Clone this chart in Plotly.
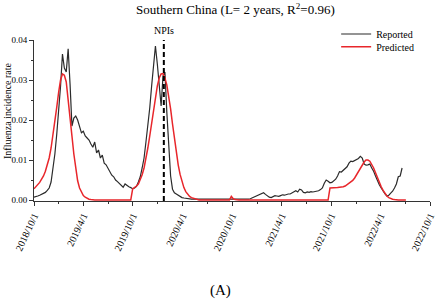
import pandas as pd
import plotly.graph_objects as go

start_date = "2018-10-01"

reported = [
    0.0007, 0.0008, 0.0010, 0.0012, 0.0014, 0.0016, 0.0019, 0.0024, 0.0030, 0.0045,
    0.0075, 0.0115, 0.0165, 0.0220, 0.0285, 0.0365, 0.0330, 0.0320, 0.0378, 0.0290,
    0.0185, 0.0205, 0.0210, 0.0200, 0.0185, 0.0168, 0.0172, 0.0160, 0.0155, 0.0150,
    0.0140, 0.0132, 0.0145, 0.0118, 0.0125, 0.0105, 0.0112, 0.0092, 0.0088, 0.0080,
    0.0070, 0.0062, 0.0058, 0.0050, 0.0046, 0.0042, 0.0038, 0.0032, 0.0040, 0.0036,
    0.0033, 0.0031, 0.0028, 0.0030, 0.0034, 0.0045, 0.0058, 0.0080, 0.0105, 0.0145,
    0.0185, 0.0230, 0.0285, 0.0335, 0.0385, 0.0340, 0.0275, 0.0235, 0.0310, 0.0320,
    0.0220, 0.0130, 0.0060, 0.0027, 0.0018, 0.0015, 0.0012, 0.0008, 0.0006, 0.0005,
    0.0004, 0.0003, 0.0003, 0.0002, 0.0002, 0.0002, 0.0002, 0.0001, 0.0001, 0.0001,
    0.0001, 0.0001, 0.0001, 0.0001, 0.0001, 0.0001, 0.0001, 0.0001, 0.0001, 0.0001,
    0.0001, 0.0001, 0.0001, 0.0001, 0.0001, 0.0001, 0.0001, 0.0001, 0.0001, 0.0001,
    0.0001, 0.0001, 0.0002, 0.0002, 0.0003, 0.0005, 0.0007, 0.0009, 0.0012, 0.0015,
    0.0017, 0.0018, 0.0014, 0.0010, 0.0007, 0.0006, 0.0008, 0.0011, 0.0010, 0.0009,
    0.0011, 0.0013, 0.0012, 0.0014, 0.0015, 0.0015, 0.0018, 0.0022, 0.0023, 0.0020,
    0.0027, 0.0025, 0.0019, 0.0018, 0.0020, 0.0019, 0.0021, 0.0020, 0.0021, 0.0022,
    0.0023, 0.0026, 0.0030, 0.0042, 0.0050, 0.0047, 0.0043, 0.0044, 0.0049, 0.0052,
    0.0060, 0.0071, 0.0070, 0.0075, 0.0080, 0.0083, 0.0092, 0.0097, 0.0096, 0.0098,
    0.0100, 0.0104, 0.0109, 0.0105, 0.0090, 0.0087, 0.0088, 0.0090, 0.0080, 0.0072,
    0.0060, 0.0048, 0.0038, 0.0030, 0.0022, 0.0015, 0.0010, 0.0012, 0.0017, 0.0022,
    0.0030, 0.0040, 0.0058, 0.0060, 0.0080,
]

predicted = [
    0.0028, 0.0033, 0.0038, 0.0044, 0.0052, 0.0060, 0.0072, 0.0088, 0.0105, 0.0130,
    0.0160, 0.0195, 0.0232, 0.0270, 0.0300, 0.0315, 0.0312, 0.0295, 0.0255, 0.0210,
    0.0160, 0.0115, 0.0078, 0.0048, 0.0030, 0.0018, 0.0011, 0.0007, 0.0004, 0.0002,
    0.0001, 0.0, 0.0, 0.0, 0.0, 0.0, 0.0, 0.0, 0.0, 0.0,
    0.0, 0.0, 0.0, 0.0, 0.0, 0.0, 0.0, 0.0, 0.0, 0.0,
    0.0, 0.0, 0.0028, 0.0031, 0.0035, 0.0040, 0.0050, 0.0063, 0.0080, 0.0103,
    0.0130, 0.0160, 0.0192, 0.0225, 0.0258, 0.0285, 0.0305, 0.0315, 0.0316, 0.0305,
    0.0288, 0.0262, 0.0228, 0.0190, 0.0153, 0.0118, 0.0088, 0.0064, 0.0045, 0.0031,
    0.0021, 0.0014, 0.0009, 0.0006, 0.0004, 0.0002, 0.0001, 0.0, 0.0, 0.0,
    0.0, 0.0, 0.0, 0.0, 0.0, 0.0, 0.0, 0.0, 0.0, 0.0,
    0.0, 0.0, 0.0, 0.0, 0.0009, 0.0003, 0.0001, 0.0, 0.0, 0.0,
    0.0, 0.0, 0.0, 0.0, 0.0, 0.0, 0.0, 0.0, 0.0, 0.0,
    0.0, 0.0, 0.0, 0.0, 0.0, 0.0, 0.0, 0.0, 0.0, 0.0,
    0.0, 0.0, 0.0, 0.0, 0.0, 0.0, 0.0, 0.0, 0.0, 0.0,
    0.0, 0.0, 0.0, 0.0, 0.0, 0.0, 0.0, 0.0, 0.0, 0.0,
    0.0, 0.0, 0.0, 0.0, 0.0, 0.0, 0.0030, 0.0030, 0.0030, 0.0031,
    0.0031, 0.0032, 0.0032, 0.0033, 0.0035, 0.0038, 0.0041, 0.0045, 0.0049, 0.0055,
    0.0063, 0.0071, 0.0079, 0.0088, 0.0095, 0.0100, 0.0100, 0.0097, 0.0090, 0.0080,
    0.0068, 0.0055, 0.0043, 0.0033, 0.0024, 0.0016, 0.0010, 0.0006, 0.0003, 0.0002,
    0.0001, 0.0, 0.0, 0.0, 0.0, 0.0, 0.0,
]

npi_date = "2020-01-23"
x_range = ["2018-10-01", "2022-10-01"]
y_tick_vals = [0.0, 0.01, 0.02, 0.03, 0.04]

rep_dates = pd.date_range(start=start_date, periods=len(reported), freq="7D")
pred_dates = pd.date_range(start=start_date, periods=len(predicted), freq="7D")

FONT = "Liberation Serif"

fig = go.Figure()
fig.add_trace(go.Scatter(x=rep_dates, y=reported, mode="lines", name="Reported",
                         line=dict(color="#2b2b2b", width=1.2), legend="legend"))
fig.add_trace(go.Scatter(x=pred_dates, y=predicted, mode="lines", name="Predicted",
                         line=dict(color="#e8262b", width=1.5), legend="legend2"))

fig.add_shape(type="line", xref="x", yref="paper", x0=npi_date, x1=npi_date, y0=0, y1=1,
              line=dict(color="black", width=2, dash="5px,3px"))
fig.add_annotation(x=npi_date, xref="x", y=1.062, yref="paper", text="NPIs",
                   showarrow=False, font=dict(size=10, family=FONT, color="black"),
                   xanchor="center", yanchor="middle")
fig.add_annotation(x=-0.0682, xref="paper", y=0.565, yref="paper",
                   text="Influenza incidence rate", textangle=-90, showarrow=False,
                   font=dict(size=10, family=FONT, color="black"),
                   xanchor="center", yanchor="middle")
fig.add_annotation(x=0.472, xref="paper", y=-0.553, yref="paper", text="(A)",
                   showarrow=False, font=dict(size=15, family=FONT, color="black"),
                   xanchor="center", yanchor="middle")

legend_common = dict(xanchor="left", yanchor="middle", bgcolor="rgba(0,0,0,0)",
                     font=dict(size=10, family=FONT, color="black"), borderwidth=0)
fig.update_layout(
    width=440, height=301,
    margin=dict(l=34, r=10, t=40, b=100, autoexpand=False),
    plot_bgcolor="white", paper_bgcolor="white",
    font=dict(family=FONT, color="black", size=10),
    title=dict(text="Southern China (L= 2 years, R<sup>2</sup>=0.96)",
               x=0.535, y=0.967, xanchor="center", yanchor="middle",
               font=dict(size=13, family=FONT, color="black")),
    showlegend=True,
    legend=dict(x=0.763, y=(201 - 34) / 161, **legend_common),
    legend2=dict(x=0.763, y=(201 - 46.7) / 161, **legend_common),
)
fig.update_xaxes(
    range=x_range, type="date", automargin=False,
    tick0="2018-10-01", dtick="M6", tickformat="%Y/%-m/%-d",
    tickangle=-65, tickfont=dict(size=10, family=FONT),
    showline=True, linecolor="#333", linewidth=1,
    ticks="outside", ticklen=4, tickcolor="#333",
    minor=dict(dtick="M3", ticks="outside", ticklen=2, tickcolor="#333"),
    showgrid=False, zeroline=False,
)
fig.update_yaxes(
    range=[-0.00025, 0.04], tickvals=y_tick_vals, tickformat=".2f", automargin=False,
    tickfont=dict(size=9, family=FONT),
    showline=True, linecolor="#333", linewidth=1,
    ticks="outside", ticklen=4, tickcolor="#333",
    minor=dict(tickvals=[0.005, 0.015, 0.025, 0.035], ticks="outside", ticklen=2, tickcolor="#333"),
    showgrid=False, zeroline=False,
)

fig.write_html("out.html", config={"displayModeBar": False},
               post_script="document.body.style.margin='0px';document.body.style.overflow='hidden';")
